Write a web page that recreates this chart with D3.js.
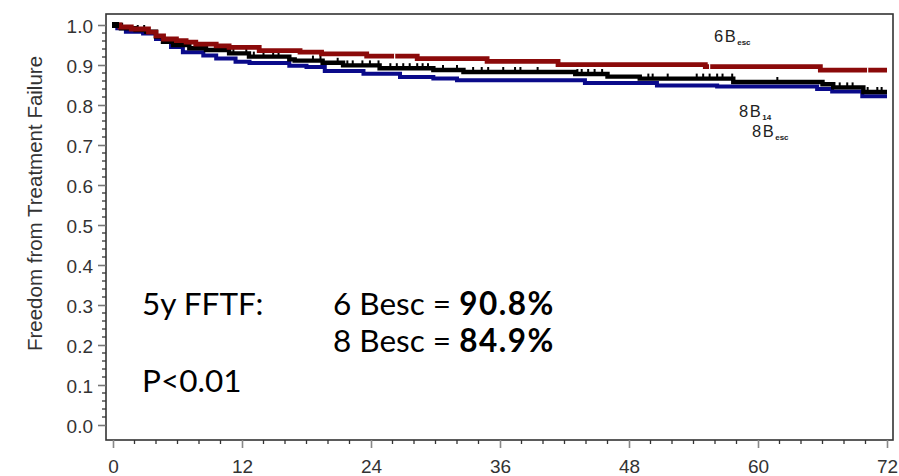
<!DOCTYPE html>
<html>
<head>
<meta charset="utf-8">
<script src="https://cdn.jsdelivr.net/npm/d3@7"></script>
<style>
html, body { margin: 0; padding: 0; background: #fff; }
svg { display: block; }
</style>
</head>
<body>
<svg id="chart" width="899" height="476"></svg>
<script>
// ---------- data ----------
const xTicks = [0, 12, 24, 36, 48, 60, 72];
const yTicks = [0.0, 0.1, 0.2, 0.3, 0.4, 0.5, 0.6, 0.7, 0.8, 0.9, 1.0];

// 6 Besc (dark red)
const redMonths = [0, 0.65, 1.7, 3.3, 4.0, 4.7, 5.9, 6.8, 7.7, 9.6, 10.8, 13.6, 17.4, 19.4, 23.6, 28.3, 34.8, 41.4, 55.1, 65.8, 72];
const redSurv   = [1.0, 0.995, 0.99, 0.982, 0.973, 0.965, 0.961, 0.957, 0.952, 0.948, 0.944, 0.936, 0.932, 0.928, 0.922, 0.916, 0.909, 0.901, 0.896, 0.887, 0.887];
const redCensor = [26.2, 55.5, 70.2];

// 8 Besc (blue)
const blueMonths = [0, 0.4, 1.2, 2.8, 4.0, 5.4, 6.5, 8.4, 9.6, 11.4, 12.7, 16.4, 18.0, 19.7, 23.3, 26.7, 29.8, 32.0, 43.9, 50.6, 56.2, 65.5, 66.9, 69.7, 72];
const blueSurv   = [1.0, 0.992, 0.983, 0.979, 0.965, 0.945, 0.932, 0.924, 0.916, 0.908, 0.905, 0.898, 0.895, 0.885, 0.878, 0.870, 0.866, 0.862, 0.855, 0.849, 0.846, 0.840, 0.834, 0.822, 0.822];

// 8 B14 (black)
const blackMonths = [0, 0.74, 2.1, 3.1, 4.0, 4.65, 5.6, 7.1, 8.65, 10.8, 12.65, 16.4, 16.9, 19.5, 21.4, 24.8, 29.8, 32.6, 43.0, 46.0, 49.0, 57.7, 66.0, 67.0, 69.8, 72];
const blackSurv   = [1.0, 0.992, 0.9875, 0.983, 0.971, 0.958, 0.950, 0.942, 0.9375, 0.929, 0.921, 0.914, 0.911, 0.9055, 0.899, 0.892, 0.8875, 0.8825, 0.8775, 0.871, 0.866, 0.8575, 0.852, 0.844, 0.8325, 0.8325];
const blackCensor = [2.3, 2.9, 8.4, 10.0, 11.2, 12.4, 13.1, 14.0, 14.9, 15.4, 18.6, 19.3, 20.9, 21.8, 22.3, 23.2, 23.9, 24.7, 25.8, 26.4, 27.0, 27.6, 28.3, 28.8, 29.3, 30.7, 32.0, 33.5, 34.3, 34.9, 36.3, 37.4, 37.9, 39.5, 43.2, 43.6, 44.2, 44.8, 45.5, 49.8, 50.2, 51.6, 54.3, 54.9, 55.5, 56.2, 56.7, 57.6, 61.8, 67.6, 68.3, 68.8, 70.2, 71.1, 71.5];

const yTitle = "Freedom from Treatment Failure";

// ---------- layout ----------
const svg = d3.select("#chart");
const frame = {left: 106, right: 893, top: 14, bottom: 440};
const x = d3.scaleLinear().domain([0, 72]).range([113, 887]);
const y = d3.scaleLinear().domain([0, 1]).range([425, 25]);
const axFont = "'Liberation Sans', Arial, sans-serif";

// frame
svg.append("rect")
  .attr("x", frame.left).attr("y", frame.top)
  .attr("width", frame.right - frame.left).attr("height", frame.bottom - frame.top)
  .attr("fill", "none").attr("stroke", "#333").attr("stroke-width", 1.6);

// y axis
const yAxis = d3.axisLeft(y).tickValues(yTicks).tickFormat(d3.format(".1f")).tickSize(8).tickPadding(5);
const gy = svg.append("g").attr("transform", `translate(${frame.left},0)`).call(yAxis)
  .attr("font-family", axFont);
gy.select(".domain").remove();
gy.selectAll(".tick line").attr("stroke", "#777").attr("stroke-width", 1.6);
gy.selectAll(".tick text").style("font-family", axFont)
  .attr("font-size", 19).attr("fill", "#333").attr("dy", "0.42em");
const yMinor = d3.range(0, 1.001, 0.02).filter(v => Math.abs(v * 10 - Math.round(v * 10)) > 1e-6);
svg.append("g").selectAll("line").data(yMinor).join("line")
  .attr("x1", frame.left - 4).attr("x2", frame.left)
  .attr("y1", d => y(d)).attr("y2", d => y(d))
  .attr("stroke", "#333").attr("stroke-width", 1.3);

// x axis
const xAxis = d3.axisBottom(x).tickValues(xTicks).tickSize(8);
const gx = svg.append("g").attr("transform", `translate(0,${frame.bottom})`).call(xAxis)
  .attr("font-family", axFont);
gx.select(".domain").remove();
gx.selectAll(".tick line").attr("stroke", "#888").attr("stroke-width", 1.6);
gx.selectAll(".tick text").style("font-family", axFont)
  .attr("font-size", 19).attr("fill", "#333").attr("y", 33).attr("dy", 0);
const xMinor = d3.range(0, 72.01, 2).filter(v => v % 12 !== 0);
svg.append("g").selectAll("line").data(xMinor).join("line")
  .attr("x1", d => x(d)).attr("x2", d => x(d))
  .attr("y1", frame.bottom).attr("y2", frame.bottom + 4)
  .attr("stroke", "#333").attr("stroke-width", 1.3);

// y title
svg.append("text")
  .attr("transform", `translate(42,${(50 + 357) / 2}) rotate(-90)`)
  .attr("text-anchor", "middle")
  .style("font-family", axFont)
  .attr("font-size", 20.5).attr("fill", "#333")
  .text(yTitle);

// ---------- curves ----------
const line = d3.line().x(d => x(d[0])).y(d => y(d[1])).curve(d3.curveStepAfter);
function series(months, surv) { return months.map((m, i) => [m, surv[i]]); }
function survAt(months, surv, t) {
  const i = d3.bisectRight(months, t) - 1;
  return surv[Math.max(0, i)];
}

const plot = svg.append("g");
plot.append("path").datum(series(blueMonths, blueSurv))
  .attr("d", line).attr("fill", "none").attr("stroke", "#0a0a8a").attr("stroke-width", 4);
plot.append("path").datum(series(blackMonths, blackSurv))
  .attr("d", line).attr("fill", "none").attr("stroke", "#000").attr("stroke-width", 4.4);
plot.append("g").selectAll("line").data(blackCensor).join("line")
  .attr("x1", d => x(d)).attr("x2", d => x(d))
  .attr("y1", d => y(survAt(blackMonths, blackSurv, d)) - 5)
  .attr("y2", d => y(survAt(blackMonths, blackSurv, d)))
  .attr("stroke", "#000").attr("stroke-width", 2);
plot.append("path").datum(series(redMonths, redSurv))
  .attr("d", line).attr("fill", "none").attr("stroke", "#8b0a0a").attr("stroke-width", 4.8);
plot.append("g").selectAll("line").data(redCensor).join("line")
  .attr("x1", d => x(d)).attr("x2", d => x(d))
  .attr("y1", d => y(survAt(redMonths, redSurv, d)) - 3)
  .attr("y2", d => y(survAt(redMonths, redSurv, d)) + 3)
  .attr("stroke", "#fff").attr("stroke-width", 1.2);
plot.append("rect").attr("x", x(0) - 1).attr("y", y(1.0) - 3).attr("width", 7).attr("height", 6).attr("fill", "#000");

// ---------- curve labels ----------
function curveLabel(px, py, main, sub) {
  const t = svg.append("text").attr("x", px).attr("y", py)
    .style("font-family", axFont).attr("font-size", 16.5)
    .attr("fill", "#222").attr("letter-spacing", 1.5);
  t.append("tspan").text(main);
  t.append("tspan").attr("font-size", 8).attr("font-weight", "bold").attr("dy", 3).attr("letter-spacing", 0).text(sub);
}
curveLabel(714, 42, "6B", "esc");
curveLabel(739, 117, "8B", "14");
curveLabel(752, 137, "8B", "esc");

// ---------- annotations ----------
const annFont = "Lato, 'Open Sans', sans-serif";
function ann(px, py, normal, bold) {
  const t = svg.append("text").attr("x", px).attr("y", py)
    .style("font-family", annFont).attr("font-size", 31.5).attr("fill", "#000");
  t.append("tspan").text(normal);
  if (bold) t.append("tspan").attr("font-weight", "bold").attr("letter-spacing", 1.5).text(bold);
}
ann(142, 315, "5y FFTF:");
ann(333, 315, "6 Besc = ", "90.8%");
ann(333, 352, "8 Besc = ", "84.9%");
ann(142, 392, "P<0.01");
</script>
</body>
</html>
